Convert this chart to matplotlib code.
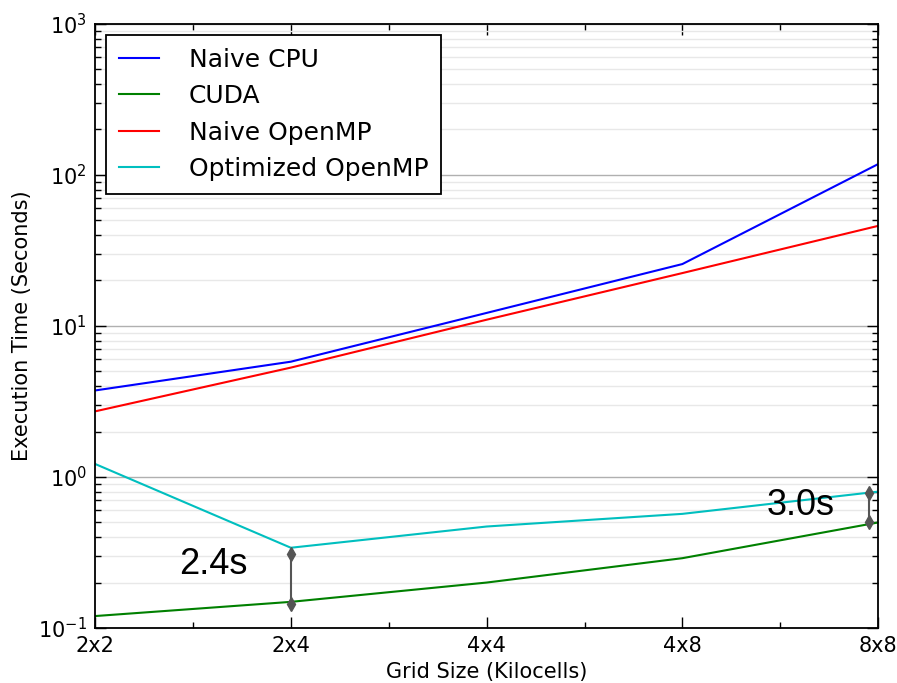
import matplotlib
matplotlib.use("Agg")
import matplotlib.pyplot as plt
import numpy as np

grid_sizes = ["2x2", "2x4", "4x4", "4x8", "8x8"]
naive_cpu = [3.74, 5.8, 12.2, 25.7, 118]
cuda = [0.12, 0.149, 0.20, 0.29, 0.50]
naive_openmp = [2.72, 5.3, 11.0, 22.4, 46]
optimized_openmp = [1.22, 0.34, 0.47, 0.57, 0.80]

# gap annotations: (x position, top, bottom, label, label x, label y)
gaps = [
    (1.0, 0.31, 0.145, "2.4s", 0.43, 0.265),
    (3.955, 0.78, 0.50, "3.0s", 3.43, 0.643),
]

fig = plt.figure(figsize=(8.97, 6.83), dpi=100)
ax = fig.add_axes([0.106, 0.0805, 0.873, 0.8845])

x = np.arange(len(grid_sizes))
ax.plot(x, naive_cpu, color="#0000ff", lw=1.5, label="Naive CPU")
ax.plot(x, cuda, color="#008000", lw=1.5, label="CUDA")
ax.plot(x, naive_openmp, color="#ff0000", lw=1.5, label="Naive OpenMP")
ax.plot(x, optimized_openmp, color="#00bfbf", lw=1.5, label="Optimized OpenMP")

for gx, top, bot, txt, tx, ty in gaps:
    ax.plot([gx, gx], [top, bot], color="#555555", lw=1.5, marker="d",
            markersize=7, markerfacecolor="#555555", markeredgecolor="#555555")
    ax.text(tx, ty, txt, fontsize=26, family="Liberation Sans",
            ha="left", va="center", color="black")

ax.set_yscale("log")
ax.set_ylim(0.1, 1000)
ax.set_xlim(0, len(grid_sizes) - 1)
ax.set_xticks(x)
ax.set_xticklabels(grid_sizes)
ax.set_xticks(np.arange(0.5, len(grid_sizes) - 1, 1.0), minor=True)

ax.grid(True, which="major", axis="y", color="#b0b0b0", lw=1.0)
ax.grid(True, which="minor", axis="y", color="#e8e8e8", lw=1.0)
ax.set_axisbelow(True)

ax.tick_params(which="both", direction="in", top=True, right=True, labelsize=15, pad=6)
ax.tick_params(which="major", length=8, width=1)
ax.tick_params(which="minor", length=4, width=1)
for s in ax.spines.values():
    s.set_linewidth(1.3)

ax.set_xlabel("Grid Size (Kilocells)", fontsize=15)
ax.set_ylabel("Execution Time (Seconds)", fontsize=15)

leg = ax.legend(loc="upper left", fontsize=18, fancybox=False, framealpha=1,
                edgecolor="black", handlelength=1.6, handletextpad=1.2,
                labelspacing=0.5, borderaxespad=0.45, borderpad=0.5)
leg.get_frame().set_linewidth(1.3)

fig.savefig("out.png", dpi=100)
